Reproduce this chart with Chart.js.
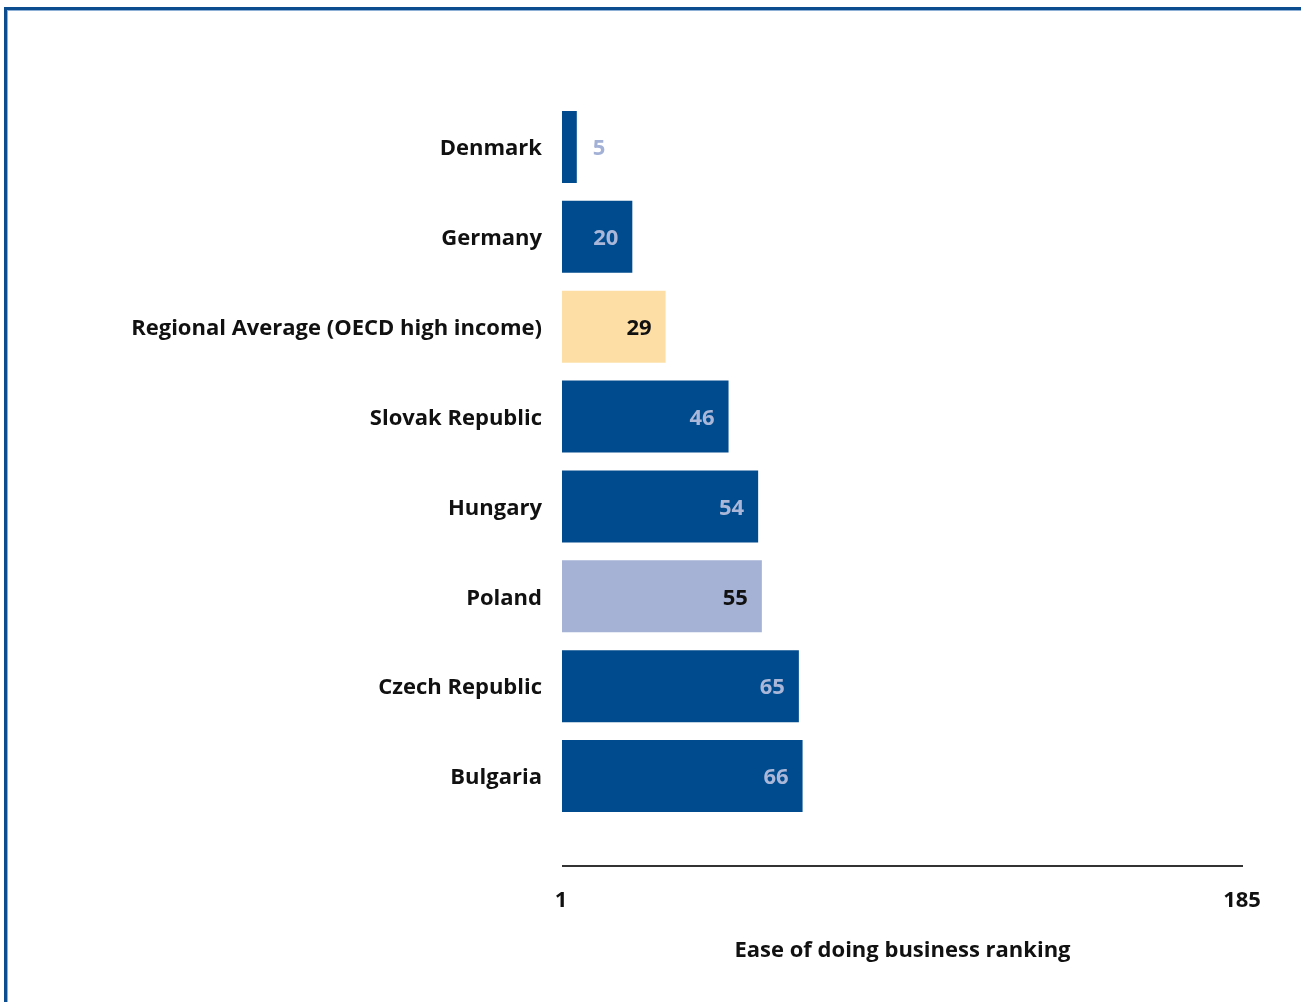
<!DOCTYPE html>
<html>
<head>
<meta charset="utf-8">
<script src="https://cdn.jsdelivr.net/npm/chart.js@4.4.1/dist/chart.umd.min.js"></script>
<style>
  html, body { margin: 0; padding: 0; background: #fff; overflow: hidden; }
  #wrap { position: absolute; left: 0; top: 0; width: 1301px; height: 1002px; }
  #frame {
    position: absolute; left: 4px; top: 7px; width: 1400px; height: 1100px;
    border-top: 3px solid #0b4d8e; border-left: 3px solid #0b4d8e;
    box-shadow: inset 1px 1px 0 #8fb0d6; pointer-events: none;
  }
</style>
</head>
<body>
<div id="wrap">
  <canvas id="rankChart" width="1301" height="1002"></canvas>
  <div id="frame"></div>
</div>
<script>
const economies = ["Denmark", "Germany", "Regional Average (OECD high income)", "Slovak Republic",
  "Hungary", "Poland", "Czech Republic", "Bulgaria"];
const rankings = [5, 20, 29, 46, 54, 55, 65, 66];
const barColors = ["#004b8d", "#004b8d", "#fddfa6", "#004b8d", "#004b8d", "#a5b2d5", "#004b8d", "#004b8d"];
const valueColors = ["#a3b1d6", "#aab7d8", "#111111", "#aab7d8", "#aab7d8", "#111111", "#aab7d8", "#aab7d8"];
const tickValues = [1, 185];

const FONT = "'Open Sans'";

const valueLabels = {
  id: "valueLabels",
  afterDatasetsDraw(chart) {
    const ctx = chart.ctx;
    const meta = chart.getDatasetMeta(0);
    ctx.save();
    ctx.font = "bold 22px " + FONT;
    ctx.textBaseline = "middle";
    meta.data.forEach((bar, i) => {
      const txt = String(rankings[i]);
      const w = bar.x - bar.base;
      ctx.fillStyle = valueColors[i];
      if (w < 40) {
        ctx.textAlign = "left";
        ctx.fillText(txt, bar.x + 16, bar.y + 2);
      } else {
        ctx.textAlign = "right";
        ctx.fillText(txt, bar.x - 14, bar.y + 2);
      }
    });
    ctx.restore();
  }
};

const axisLine = {
  id: "axisLine",
  afterDraw(chart) {
    const x = chart.scales.x;
    const ctx = chart.ctx;
    const y = chart.chartArea.bottom + 45;
    ctx.save();
    ctx.strokeStyle = "#333";
    ctx.lineWidth = 2;
    ctx.beginPath();
    ctx.moveTo(x.left, y);
    ctx.lineTo(x.right, y);
    ctx.stroke();
    ctx.restore();
  }
};

new Chart(document.getElementById("rankChart").getContext("2d"), {
  type: "bar",
  data: {
    labels: economies,
    datasets: [{
      data: rankings,
      backgroundColor: barColors,
      barPercentage: 0.8,
      categoryPercentage: 1.0
    }]
  },
  options: {
    indexAxis: "y",
    responsive: false,
    animation: false,
    layout: { padding: { left: 0, right: 58, top: 102, bottom: 0 } },
    plugins: { legend: { display: false }, tooltip: { enabled: false } },
    scales: {
      y: {
        grid: { display: false, drawTicks: false },
        border: { display: false },
        ticks: { color: "#111", padding: 20, labelOffset: 2, font: { family: FONT, size: 22, weight: "bold" } },
        afterFit(scale) { scale.width = 562; }
      },
      x: {
        min: 1,
        max: 185,
        grid: { display: false, drawTicks: false },
        border: { display: false },
        afterBuildTicks(scale) { scale.ticks = tickValues.map(v => ({ value: v })); },
        ticks: { color: "#111", padding: 67, labelOffset: -1, font: { family: FONT, size: 22, weight: "bold" } },
        title: {
          display: true,
          text: "Ease of doing business ranking",
          color: "#111",
          padding: { top: 0, bottom: 38 },
          font: { family: FONT, size: 22, weight: "bold" }
        },
        afterFit(scale) {
          scale.height = 181;
          scale.paddingLeft = 0;
          scale.paddingRight = 0;
        }
      }
    }
  },
  plugins: [valueLabels, axisLine]
});
</script>
</body>
</html>
